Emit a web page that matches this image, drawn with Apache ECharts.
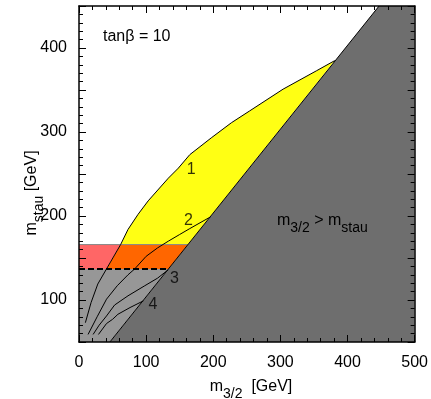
<!DOCTYPE html>
<html>
<head>
<meta charset="utf-8">
<script src="https://cdn.jsdelivr.net/npm/echarts@6/dist/echarts.min.js"></script>
<style>
html,body{margin:0;padding:0;background:#fff}
#main{width:431px;height:399px}
</style>
</head>
<body>
<div id="main"></div>
<script>
// m_{3/2} = m_stau boundary (end points)
var diagonal = [[46, 50], [447, 450]];
// horizontal band limits of m_stau
var bandLow = 137;
var bandHigh = 166;
// contour lines
var curve1 = [[9.5, 73], [18, 97], [28, 119], [41, 137], [62, 166], [73, 184], [88, 202], [103, 218], [133, 245],
              [148, 257], [165, 273], [197, 293], [227, 311], [254, 325], [304, 351], [354, 373], [381, 385]];
var curve2 = [[13.5, 59], [27, 80], [41, 101], [57, 117], [73, 130], [83, 137], [100, 152], [117, 162],
              [133, 170], [150, 178], [165, 185], [196, 199]];
var curve3 = [[21, 59], [30, 70], [41, 81], [53, 94], [73, 105], [98, 117], [117, 126], [133, 136]];
var curve4 = [[29, 59], [41, 72], [50, 77], [58, 83], [76, 91], [96, 99]];
var curveNames = ['1', '2', '3', '4'];
var curveLabelPos = [[167, 255], [163, 195], [142, 125], [110, 94]];

var font = 'Liberation Sans, Arial, Helvetica, sans-serif';

function diagX(y) {
    var a = diagonal[0], b = diagonal[1];
    return a[0] + (y - a[1]) * (b[0] - a[0]) / (b[1] - a[1]);
}

// band points on curve 1
var i166 = 0, i137 = 0;
for (var i = 0; i < curve1.length; i++) {
    if (curve1[i][1] === bandHigh) i166 = i;
    if (curve1[i][1] === bandLow) i137 = i;
}

var darkGray = [diagonal[0], diagonal[1], [500, 450], [500, 50]];
var lightGray = [[0, 50], [0, bandLow], [diagX(bandLow), bandLow], diagonal[0]];
var redBand = [[0, bandLow], [0, bandHigh], curve1[i166], curve1[i137]];
var orangeBand = [curve1[i137], curve1[i166], [diagX(bandHigh), bandHigh], [diagX(bandLow), bandLow]];
var yellow = curve1.slice(i166).concat([[diagX(bandHigh), bandHigh]]);

function polySeries(pts, color) {
    return {
        type: 'custom',
        silent: true,
        z: 1,
        data: pts,
        encode: {x: 0, y: 1},
        renderItem: function (params, api) {
            if (params.dataIndex > 0) return null;
            var p = [];
            for (var k = 0; k < pts.length; k++) {
                p.push(api.coord(pts[k]));
            }
            return {type: 'polygon', shape: {points: p}, style: {fill: color}};
        }
    };
}

function lineSeries(pts, color, width, type) {
    return {
        type: 'line',
        data: pts,
        showSymbol: false,
        silent: true,
        z: 3,
        lineStyle: {color: color, width: width, type: type || 'solid'}
    };
}

var axisCommon = {
    type: 'value',
    z: 10,
    splitLine: {show: false},
    axisLine: {show: true, onZero: false, lineStyle: {color: '#000', width: 1.5}},
    axisTick: {show: true, inside: true, length: 7, lineStyle: {color: '#000', width: 1}},
    minorTick: {show: true, splitNumber: 5, length: 4, lineStyle: {color: '#000', width: 1}},
    minorSplitLine: {show: false}
};

function axis(extra) {
    var o = JSON.parse(JSON.stringify(axisCommon));
    for (var k in extra) o[k] = extra[k];
    return o;
}

// rich styles: main text + subscript
var richSub = {
    m: {fontSize: 16, fontFamily: font, color: '#000', lineHeight: 20, verticalAlign: 'top'},
    s: {fontSize: 14, fontFamily: font, color: '#000', lineHeight: 15, padding: [10, 0, 0, 0]}
};

var myChart = echarts.init(document.getElementById('main'));

var series = [
    polySeries(darkGray, '#6e6e6e'),
    polySeries(lightGray, '#979797'),
    polySeries(redBand, '#ff6666'),
    polySeries(orangeBand, '#ff6600'),
    polySeries(yellow, '#ffff14'),
    lineSeries([[0, bandHigh], [diagX(bandHigh), bandHigh]], '#888', 1),
    lineSeries([[0, bandLow], [diagX(bandLow), bandLow]], '#000', 2, [6, 3]),
    lineSeries(diagonal, '#000', 1),
    lineSeries(curve1, '#000', 1),
    lineSeries(curve2, '#000', 1),
    lineSeries(curve3, '#000', 1),
    lineSeries(curve4, '#000', 1),
    {
        type: 'scatter',
        symbolSize: 0,
        silent: true,
        z: 4,
        data: curveLabelPos.map(function (p, k) { return {value: p, name: curveNames[k]}; }),
        label: {
            show: true,
            position: 'inside',
            formatter: '{b}',
            color: '#000',
            fontSize: 16,
            fontFamily: font
        }
    }
];

var option = {
    animation: false,
    backgroundColor: '#fff',
    grid: {left: 79, right: 16, top: 6, bottom: 57},
    xAxis: [
        axis({min: 0, max: 500, interval: 100, position: 'bottom',
              axisLabel: {color: '#000', fontSize: 16, fontFamily: font, margin: 13}}),
        axis({min: 0, max: 500, interval: 100, position: 'top', axisLabel: {show: false}})
    ],
    yAxis: [
        axis({min: 50, max: 450, interval: 50, position: 'left',
              axisLabel: {color: '#000', fontSize: 16, fontFamily: font, margin: 12,
                          formatter: function (v) { return v % 100 === 0 ? v : ''; }}}),
        axis({min: 50, max: 450, interval: 50, position: 'right', axisLabel: {show: false}})
    ],
    graphic: [
        {
            type: 'text', x: 103, y: 37, z: 20,
            style: {text: 'tanβ = 10', font: '16px ' + font, fill: '#000', verticalAlign: 'middle'}
        },
        {
            type: 'text', x: 277, y: 223, z: 20,
            style: {text: '{m|m}{s|3/2}{m| > m}{s|stau}', verticalAlign: 'middle', rich: richSub}
        },
        {
            type: 'text', x: 251, y: 389, z: 20,
            style: {text: '{m|m}{s|3/2}{m|  [GeV]}', align: 'center', verticalAlign: 'middle', rich: richSub}
        },
        {
            type: 'text', x: 34, y: 193, z: 20, rotation: Math.PI / 2,
            style: {text: '{m|m}{s|stau}{m| [GeV]}', align: 'center', verticalAlign: 'middle', rich: richSub}
        }
    ],
    series: series
};

myChart.setOption(option);
</script>
</body>
</html>
